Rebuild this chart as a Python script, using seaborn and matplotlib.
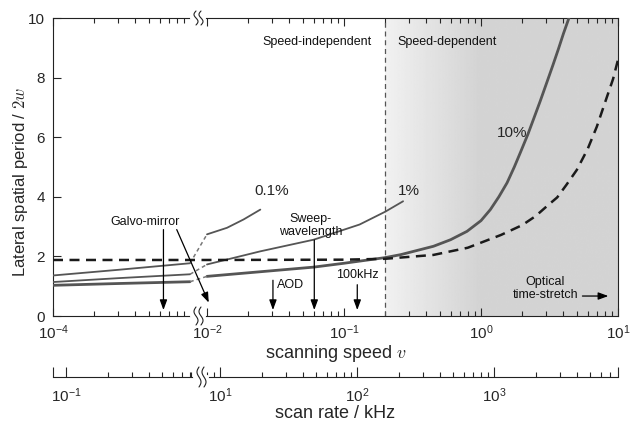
import numpy as np
import matplotlib
matplotlib.use('Agg')
import matplotlib.pyplot as plt
import seaborn as sns
from matplotlib.transforms import IdentityTransform

# ---- dados ----
# segmento esquerdo (antes da quebra do eixo)
v_left = [1e-4, 3e-4, 1e-3]
p01_left = [1.36, 1.55, 1.77]
p1_left = [1.14, 1.27, 1.40]
p10_left = [1.03, 1.09, 1.15]

# trechos tracejados que atravessam a quebra
v_gap = [1e-3, 1e-2]
p01_gap = [1.77, 2.74]
p1_gap = [1.40, 1.73]
p10_gap = [1.15, 1.33]

# segmento direito
v_p01 = [1e-2, 0.014, 0.0185, 0.0245]
p01_right = [2.74, 2.96, 3.24, 3.57]

v_p1 = [1e-2, 0.0245, 0.06, 0.13, 0.2, 0.27]
p1_right = [1.73, 2.17, 2.56, 3.07, 3.5, 3.85]

v_p10 = [1e-2, 0.03, 0.06, 0.1, 0.2, 0.26, 0.45, 0.6, 0.79, 1.0, 1.17, 1.35, 1.55, 1.75, 1.94, 2.2, 2.42,
         2.7, 3.03, 3.35, 3.68, 4.0, 4.37, 4.6]
p10_right = [1.33, 1.52, 1.64, 1.77, 1.96, 2.06, 2.34, 2.56, 2.84, 3.2, 3.57, 4.0, 4.47, 5.0, 5.49, 6.1,
             6.61, 7.2, 7.85, 8.42, 8.97, 9.48, 9.98, 10.3]

# curva de referência (tracejada preta)
v_ref = [1e-4, 1e-2, 0.1, 0.2, 0.45, 0.8, 1.4, 2.0, 2.5, 3.0, 3.6, 4.2, 5.0, 6.0, 7.0, 8.3, 9.2, 10]
ref = [1.88, 1.88, 1.89, 1.92, 2.05, 2.29, 2.72, 3.05, 3.35, 3.67, 3.98, 4.4, 4.9, 5.6, 6.35, 7.35, 7.95, 8.6]

curve_labels = ['0.1%', '1%', '10%']
v_split = 0.2               # fronteira speed-independent / speed-dependent
khz_per_v = 800             # taxa de varredura (kHz) por unidade de v

# marcadores (setas verticais)
v_galvo = 6.4e-4
v_aod = 0.0303
v_sweep = 0.0607
v_100khz = 0.125

# eixos
x_major = [1e-4, 1e-2, 1e-1, 1, 10]
x_major_labels = [r'$\mathdefault{10^{-4}}$', r'$\mathdefault{10^{-2}}$', r'$\mathdefault{10^{-1}}$',
                  r'$\mathdefault{10^{0}}$', r'$\mathdefault{10^{1}}$']
khz_major = [0.1, 10, 100, 1000]
khz_major_labels = [r'$\mathdefault{10^{-1}}$', r'$\mathdefault{10^{1}}$',
                    r'$\mathdefault{10^{2}}$', r'$\mathdefault{10^{3}}$']
y_major = [0, 2, 4, 6, 8, 10]

# ---- escala com a década 1e-3..1e-2 comprimida ----
LO, HI, GAP = -3.0, -2.0, 0.124


def fwd(x):
    l = np.log10(np.maximum(np.asarray(x, dtype=float), 1e-300))
    return np.where(l <= LO, l, np.where(l >= HI, l - (1 - GAP), LO + (l - LO) * GAP))


def inv(u):
    u = np.asarray(u, dtype=float)
    return np.where(u <= LO, 10.0 ** u,
                    np.where(u >= LO + GAP, 10.0 ** (u + 1 - GAP), 10.0 ** (LO + (u - LO) / GAP)))


sns.set_style('ticks')
plt.rcParams['font.family'] = ['Liberation Sans', 'DejaVu Sans']
plt.rcParams['mathtext.fontset'] = 'cm'

W, H = 632, 425
fig = plt.figure(figsize=(W / 100, H / 100), dpi=100)
AX_L, AX_R, AX_T, AX_B = 53, 618, 18, 316
ax = fig.add_axes([AX_L / W, (H - AX_B) / H, (AX_R - AX_L) / W, (AX_B - AX_T) / H])
ax.set_xscale('function', functions=(fwd, inv))

# fundo cinza com degradê na região speed-dependent
u0, u1 = float(fwd(1e-4)), float(fwd(10))
f_split = (float(fwd(v_split)) - u0) / (u1 - u0)
grad = np.clip(np.linspace(0, 1, 256) / 0.4, 0, 1)
shade = (0.945 - 0.115 * grad)[None, :]
ax.imshow(shade, extent=[f_split, 1, 0, 1], transform=ax.transAxes, aspect='auto',
          cmap='gray', vmin=0, vmax=1, zorder=0, interpolation='bilinear')
ax.axvline(v_split, color='#555555', lw=0.9, ls=(0, (4, 3)), zorder=1)

solid = '#555555'
kw = dict(ax=ax, estimator=None, sort=False, legend=False)
sns.lineplot(x=v_ref, y=ref, color='#1a1a1a', lw=1.8, linestyle=(0, (4, 2.6)), zorder=4, **kw)
for vv, yy, lw in [(v_left, p01_left, 1.3), (v_left, p1_left, 1.3), (v_left, p10_left, 2.0),
                   (v_p01, p01_right, 1.3), (v_p1, p1_right, 1.3), (v_p10, p10_right, 2.0)]:
    sns.lineplot(x=vv, y=yy, color=solid, lw=lw, zorder=3, **kw)
for yy in [p01_gap, p1_gap, p10_gap]:
    sns.lineplot(x=v_gap, y=yy, color='#777777', lw=1.1, linestyle=(0, (2.5, 2)), zorder=3, **kw)

ax.set_xlim(1e-4, 10)
ax.set_ylim(0, 10)

# ticks
x_minor = [m * 1e-4 for m in range(2, 10)] + [m * 10.0 ** e for e in (-2, -1, 0) for m in range(2, 10)]
ax.set_xticks(x_major, x_major_labels)
ax.set_xticks(x_minor, minor=True)
ax.set_yticks(y_major, [str(t) for t in y_major])
ax.tick_params(axis='x', which='both', direction='in', top=True, bottom=True, labelsize=11, pad=5.5)
ax.tick_params(axis='x', which='major', length=6, width=0.8)
ax.tick_params(axis='x', which='minor', length=3.5, width=0.8)
ax.tick_params(axis='y', which='major', direction='in', left=True, right=False, length=6,
               width=0.8, labelsize=11, pad=6)
for s in ax.spines.values():
    s.set_linewidth(0.8)
    s.set_color('#222222')

ax.set_xlabel(r'scanning speed $v$', fontsize=13)
ax.xaxis.set_label_coords(0.5, -0.09)
ax.set_ylabel(r'Lateral spatial period / $2w$', fontsize=12)
ax.yaxis.set_label_coords(-0.04, 0.45)

# textos
tx = dict(fontsize=9, color='#111111')
ax.text(0.16, 9.2, 'Speed-independent', ha='right', va='center', **tx)
ax.text(0.245, 9.2, 'Speed-dependent', ha='left', va='center', **tx)
ax.text(0.0297, 4.2, curve_labels[0], ha='center', va='center', fontsize=11)
ax.text(0.299, 4.2, curve_labels[1], ha='center', va='center', fontsize=11)
ax.text(1.69, 6.14, curve_labels[2], ha='center', va='center', fontsize=11)

arr = dict(arrowstyle='-|>,head_length=0.6,head_width=0.22', color='black', lw=0.9,
           shrinkA=0, shrinkB=0)
ax.text(4.72e-4, 3.15, 'Galvo-mirror', ha='center', va='center', **tx)
ax.annotate('', xy=(v_galvo, 0.2), xytext=(v_galvo, 2.9), arrowprops=arr, zorder=5)
ax.annotate('', xy=(1.03e-2, 0.45), xytext=(8.0e-4, 2.9), arrowprops=arr, zorder=5)
ax.text(0.0405, 1.05, 'AOD', ha='center', va='center', **tx)
ax.annotate('', xy=(v_aod, 0.2), xytext=(v_aod, 1.2), arrowprops=arr, zorder=5)
ax.text(0.0568, 3.05, 'Sweep-\nwavelength', ha='center', va='center', linespacing=1.1, **tx)
ax.annotate('', xy=(v_sweep, 0.2), xytext=(v_sweep, 2.55), arrowprops=arr, zorder=5)
ax.text(v_100khz, 1.38, '100kHz', ha='center', va='center', **tx)
ax.annotate('', xy=(v_100khz, 0.2), xytext=(v_100khz, 1.05), arrowprops=arr, zorder=5)
ax.text(2.94, 0.92, 'Optical\ntime-stretch', ha='center', va='center', linespacing=1.2, **tx)
ax.annotate('', xy=(8.5, 0.67), xytext=(5.5, 0.67), arrowprops=arr, zorder=5)

# eixo inferior: taxa de varredura
B_Y = 377
ax2 = fig.add_axes([AX_L / W, (H - B_Y) / H, (AX_R - AX_L) / W, 20 / H])
ax2.set_xscale('function', functions=(fwd, inv))
ax2.set_xlim(1e-4, 10)
ax2.set_ylim(0, 1)
ax2.patch.set_alpha(0)
for side in ['left', 'right', 'top']:
    ax2.spines[side].set_visible(False)
ax2.spines['bottom'].set_linewidth(0.8)
ax2.spines['bottom'].set_color('#222222')
khz_minor = [m * 0.1 for m in range(2, 10)] + [8, 9] + [m * 10.0 ** e for e in (1, 2) for m in range(2, 10)] \
    + [m * 1000 for m in range(2, 8)]
ax2.set_xticks([1e-4] + [k / khz_per_v for k in khz_major] + [10], [''] + khz_major_labels + [''])
ax2.set_xticks([k / khz_per_v for k in khz_minor], minor=True)
ax2.set_yticks([])
ax2.tick_params(axis='x', which='both', direction='in', bottom=True, top=False, labelsize=11, pad=7)
ax2.tick_params(axis='x', which='major', length=7, width=0.8)
ax2.tick_params(axis='x', which='minor', length=3.5, width=0.8)
ax2.set_xlabel('scan rate / kHz', fontsize=13)
ax2.xaxis.set_label_coords(0.5, -1.4)


# marcas de quebra do eixo (em pixels)
def quebra(px, py, half=9):
    fig.add_artist(plt.Line2D([px - 6, px + 6], [py, py], color='white', lw=3,
                              transform=IdentityTransform(), zorder=10))
    t = np.linspace(0, 1, 40)
    for dx in (-2.5, 2.5):
        fig.add_artist(plt.Line2D(px + dx + 2.0 * np.sin(2 * np.pi * t), py - half + 2 * half * t,
                                  color='#222222', lw=0.8, transform=IdentityTransform(), zorder=11))


u_mid = LO + GAP / 2
px_b = AX_L + (AX_R - AX_L) * (u_mid - u0) / (u1 - u0)
quebra(px_b, H - AX_T, 7)
quebra(px_b, H - AX_B, 9)
quebra(px_b + 3, H - B_Y, 10)

fig.savefig('out.png', dpi=100)
